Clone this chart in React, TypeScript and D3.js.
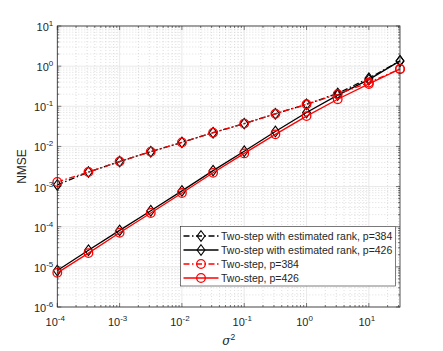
import React, { useEffect, useRef } from 'react';
import * as d3 from 'd3';

// sigma^2 values (log-spaced, half decades)
const sigma2 = [1e-4, 10 ** -3.5, 1e-3, 10 ** -2.5, 1e-2, 10 ** -1.5, 1e-1, 10 ** -0.5, 1, 10 ** 0.5, 10, 10 ** 1.5];

const estRank384 = [1.1e-3, 2.3e-3, 4.2e-3, 7.4e-3, 1.26e-2, 2.2e-2, 3.7e-2, 6.5e-2, 0.112, 0.21, 0.5, 1.35];
const estRank426 = [8.1e-6, 2.6e-5, 8.1e-5, 2.5e-4, 7.8e-4, 2.5e-3, 7.6e-3, 2.36e-2, 7.0e-2, 0.19, 0.46, 1.35];
const twoStep384 = [1.3e-3, 2.3e-3, 4.2e-3, 7.4e-3, 1.26e-2, 2.2e-2, 3.7e-2, 6.5e-2, 0.112, 0.2, 0.39, 0.85];
const twoStep426 = [7.1e-6, 2.2e-5, 7.1e-5, 2.2e-4, 6.9e-4, 2.2e-3, 6.7e-3, 2.0e-2, 5.7e-2, 0.15, 0.36, 0.85];

const xTickExps = [-4, -3, -2, -1, 0, 1];
const yTickExps = [-6, -5, -4, -3, -2, -1, 0, 1];

const series = [
  { name: 'Two-step with estimated rank, p=384', values: estRank384, color: '#000', dash: '6,2.5,1.5,2.5', marker: 'diamond' },
  { name: 'Two-step with estimated rank, p=426', values: estRank426, color: '#000', dash: null, marker: 'diamond' },
  { name: 'Two-step, p=384', values: twoStep384, color: '#ff0000', dash: '6,2.5,1.5,2.5', marker: 'circle' },
  { name: 'Two-step, p=426', values: twoStep426, color: '#ff0000', dash: null, marker: 'circle' },
];

const W = 443;
const H = 351;
const margin = { top: 26, right: 43, bottom: 44, left: 57.3 };
const font = 'Liberation Sans, Arial, Helvetica, sans-serif';

const App = () => {
  const svgRef = useRef<SVGSVGElement>(null);

  useEffect(() => {
    const svg = d3.select(svgRef.current);
    svg.selectAll('*').remove();

    const width = W - margin.left - margin.right;
    const height = H - margin.top - margin.bottom;

    const x = d3.scaleLog().domain([1e-4, 10 ** 1.5]).range([0, width]);
    const y = d3.scaleLog().domain([1e-6, 10]).range([height, 0]);

    svg.append('rect').attr('width', W).attr('height', H).attr('fill', '#fff');

    const g = svg.append('g').attr('transform', `translate(${margin.left},${margin.top})`);

    g.append('rect').attr('width', width).attr('height', height).attr('fill', '#fff');

    // minor values
    const minorX: number[] = [];
    for (let e = -4; e <= 1; e++) for (let k = 2; k <= 9; k++) {
      const v = k * 10 ** e;
      if (v < 10 ** 1.5) minorX.push(v);
    }
    const minorY: number[] = [];
    for (let e = -6; e <= 0; e++) for (let k = 2; k <= 9; k++) minorY.push(k * 10 ** e);
    const majorX = xTickExps.map(e => 10 ** e);
    const majorY = yTickExps.map(e => 10 ** e);

    // minor grid
    g.selectAll('.mgx').data(minorX).enter().append('line')
      .attr('x1', d => x(d)).attr('x2', d => x(d)).attr('y1', 0).attr('y2', height)
      .attr('stroke', '#c8c8c8').attr('stroke-width', 0.6).attr('stroke-dasharray', '1,2');
    g.selectAll('.mgy').data(minorY).enter().append('line')
      .attr('y1', d => y(d)).attr('y2', d => y(d)).attr('x1', 0).attr('x2', width)
      .attr('stroke', '#c8c8c8').attr('stroke-width', 0.6).attr('stroke-dasharray', '1,2');
    // major grid
    g.selectAll('.gx').data(majorX).enter().append('line')
      .attr('x1', d => x(d)).attr('x2', d => x(d)).attr('y1', 0).attr('y2', height)
      .attr('stroke', '#e3e3e3').attr('stroke-width', 0.8);
    g.selectAll('.gy').data(majorY).enter().append('line')
      .attr('y1', d => y(d)).attr('y2', d => y(d)).attr('x1', 0).attr('x2', width)
      .attr('stroke', '#e3e3e3').attr('stroke-width', 0.8);

    // ticks on all sides, inward
    const tickCol = '#262626';
    const addXTicks = (vals: number[], len: number) => {
      [0, height].forEach(yy => {
        g.selectAll(null).data(vals).enter().append('line')
          .attr('x1', d => x(d)).attr('x2', d => x(d))
          .attr('y1', yy).attr('y2', yy === 0 ? len : height - len)
          .attr('stroke', tickCol).attr('stroke-width', 0.6);
      });
    };
    const addYTicks = (vals: number[], len: number) => {
      [0, width].forEach(xx => {
        g.selectAll(null).data(vals).enter().append('line')
          .attr('y1', d => y(d)).attr('y2', d => y(d))
          .attr('x1', xx).attr('x2', xx === 0 ? len : width - len)
          .attr('stroke', tickCol).attr('stroke-width', 0.6);
      });
    };
    addXTicks(majorX, 4);
    addXTicks(minorX, 2);
    addYTicks(majorY, 4);
    addYTicks(minorY, 2);

    // lines and markers
    series.forEach(s => {
      const pts = sigma2.map((v, i) => [x(v), y(s.values[i])] as [number, number]);
      g.append('path')
        .attr('d', d3.line()(pts))
        .attr('fill', 'none')
        .attr('stroke', s.color)
        .attr('stroke-width', 1.3)
        .attr('stroke-dasharray', s.dash);
      pts.forEach(p => drawMarker(g, s.marker, p[0], p[1], s.color));
    });

    // box
    g.append('rect').attr('width', width).attr('height', height)
      .attr('fill', 'none').attr('stroke', tickCol).attr('stroke-width', 0.8);

    // tick labels
    xTickExps.forEach(e => {
      const t = g.append('text')
        .attr('x', x(10 ** e) - 2).attr('y', height + 19)
        .attr('text-anchor', 'middle')
        .attr('font-family', font).attr('font-size', 11).attr('fill', tickCol);
      t.append('tspan').text('10');
      t.append('tspan').attr('dy', -5).attr('font-size', 8).text(String(e));
    });
    yTickExps.forEach(e => {
      const t = g.append('text')
        .attr('x', -4).attr('y', y(10 ** e) + 5)
        .attr('text-anchor', 'end')
        .attr('font-family', font).attr('font-size', 11).attr('fill', tickCol);
      t.append('tspan').text('10');
      t.append('tspan').attr('dy', -5).attr('font-size', 8).text(String(e));
    });

    // axis labels
    svg.append('text')
      .attr('transform', `translate(25.5,${margin.top + height / 2}) rotate(-90)`)
      .attr('text-anchor', 'middle')
      .attr('font-family', font).attr('font-size', 12).attr('fill', tickCol)
      .text('NMSE');
    const xl = svg.append('text')
      .attr('x', margin.left + width / 2).attr('y', 345)
      .attr('text-anchor', 'middle')
      .attr('font-family', font).attr('font-size', 12).attr('fill', tickCol);
    xl.append('tspan').attr('font-style', 'italic').attr('font-family', 'DejaVu Serif, serif').text('σ');
    xl.append('tspan').attr('dy', -5).attr('font-size', 8.5).text('2');

    // legend
    const lg = svg.append('g').attr('transform', 'translate(180.5,226.5)');
    lg.append('rect').attr('width', 215).attr('height', 59.5)
      .attr('fill', '#fff').attr('stroke', tickCol).attr('stroke-width', 0.6);
    series.forEach((s, i) => {
      const cy = 9.5 + i * 14;
      lg.append('line').attr('x1', 3).attr('x2', 38).attr('y1', cy).attr('y2', cy)
        .attr('stroke', s.color).attr('stroke-width', 1.3).attr('stroke-dasharray', s.dash);
      drawMarker(lg, s.marker, 20.5, cy, s.color);
      lg.append('text').attr('x', 40.5).attr('y', cy + 3.8)
        .attr('font-family', font).attr('font-size', 10.5).attr('fill', tickCol)
        .text(s.name);
    });
  }, []);

  return (
    <svg ref={svgRef} width={W} height={H} style={{ position: 'absolute', left: 0, top: 0 }} />
  );
};

function drawMarker(g: any, type: string, cx: number, cy: number, color: string) {
  if (type === 'diamond') {
    const r = 4.6;
    g.append('path')
      .attr('d', `M${cx},${cy - r * 1.15}L${cx + r * 0.85},${cy}L${cx},${cy + r * 1.15}L${cx - r * 0.85},${cy}Z`)
      .attr('fill', 'none').attr('stroke', color).attr('stroke-width', 1.1);
  } else {
    g.append('circle').attr('cx', cx).attr('cy', cy).attr('r', 4.3)
      .attr('fill', 'none').attr('stroke', color).attr('stroke-width', 1.3);
  }
}

export default App;
